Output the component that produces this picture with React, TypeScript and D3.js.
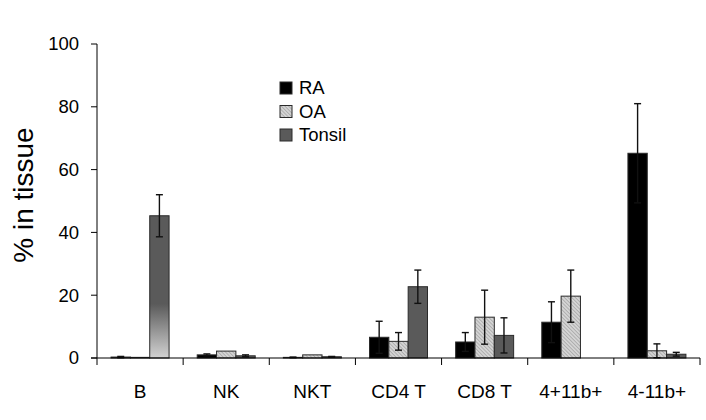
import React from "react";
import * as d3 from "d3";

const categories = ["B", "NK", "NKT", "CD4 T", "CD8 T", "4+11b+", "4-11b+"];
const seriesNames = ["RA", "OA", "Tonsil"];
const raValues = [0.3, 1.0, 0.2, 6.6, 5.1, 11.4, 65.2];
const raErrors = [0.2, 0.3, 0.1, 5.1, 3.0, 6.5, 15.8];
const oaValues = [0.2, 2.2, 1.0, 5.3, 13.0, 19.7, 2.3];
const oaErrors = [0, 0, 0, 2.8, 8.6, 8.3, 2.2];
const tonsilValues = [45.3, 0.7, 0.4, 22.7, 7.2, 0, 1.2];
const tonsilErrors = [6.7, 0.3, 0.1, 5.3, 5.6, 0, 0.6];
const yTicks = [0, 20, 40, 60, 80, 100];

const W = 706;
const H = 420;
const margin = { top: 44, right: 6, bottom: 62, left: 97 };
const font = "Arial, 'Liberation Sans', sans-serif";

const series = [
  { name: seriesNames[0], values: raValues, errors: raErrors, fill: "#000000" },
  { name: seriesNames[1], values: oaValues, errors: oaErrors, fill: "url(#hatch)" },
  { name: seriesNames[2], values: tonsilValues, errors: tonsilErrors, fill: "#5a5a5a" },
];

export default function App() {
  const innerW = W - margin.left - margin.right;
  const innerH = H - margin.top - margin.bottom;

  const x = d3.scaleBand<string>().domain(categories).range([0, innerW]);
  const inner = d3
    .scaleBand<string>()
    .domain(seriesNames)
    .range([0, 58])
    .padding(0);
  const y = d3.scaleLinear().domain([0, 100]).range([innerH, 0]);
  const offset = (x.bandwidth() - 58) / 2;

  return (
    <svg width={W} height={H} style={{ position: "absolute", left: 0, top: 0, background: "#fff" }}>
      <defs>
        <pattern id="hatch" width="2.6" height="2.6" patternUnits="userSpaceOnUse" patternTransform="rotate(-45)">
          <rect width="2.6" height="2.6" fill="#d4d4d4" />
          <line x1="0" y1="0" x2="0" y2="2.6" stroke="#8c8c8c" strokeWidth="1" />
        </pattern>
        <linearGradient id="fadeB" x1="0" y1="0" x2="0" y2="1">
          <stop offset="0.62" stopColor="#5a5a5a" />
          <stop offset="1" stopColor="#d2d2d2" />
        </linearGradient>
      </defs>
      <g transform={`translate(${margin.left},${margin.top})`}>
        {/* bars */}
        {series.map((s) => (
          <g key={s.name}>
            {categories.map((c, i) => {
              const v = s.values[i];
              if (v <= 0) return null;
              const bx = x(c)! + offset + inner(s.name)!;
              const fill = s.name === "Tonsil" && c === "B" ? "url(#fadeB)" : s.fill;
              return (
                <rect
                  key={c}
                  x={bx}
                  y={y(v)}
                  width={inner.bandwidth()}
                  height={innerH - y(v)}
                  fill={fill}
                  stroke="#2a2a2a"
                  strokeWidth={1}
                />
              );
            })}
          </g>
        ))}
        {/* error bars */}
        {series.map((s) => (
          <g key={s.name + "err"} stroke="#111" strokeWidth={1.4}>
            {categories.map((c, i) => {
              const v = s.values[i];
              const e = s.errors[i];
              if (e <= 0 || v <= 0) return null;
              const cx = x(c)! + offset + inner(s.name)! + inner.bandwidth() / 2;
              const top = y(v + e);
              const bot = y(Math.max(0, v - e));
              return (
                <g key={c}>
                  <line x1={cx} x2={cx} y1={top} y2={bot} />
                  <line x1={cx - 3.5} x2={cx + 3.5} y1={top} y2={top} />
                  <line x1={cx - 3.5} x2={cx + 3.5} y1={bot} y2={bot} />
                </g>
              );
            })}
          </g>
        ))}
        {/* y axis */}
        <line x1={0} x2={0} y1={0} y2={innerH} stroke="#000" strokeWidth={1} />
        {yTicks.map((t) => (
          <g key={t} transform={`translate(0,${y(t)})`}>
            <line x1={-6} x2={0} stroke="#000" />
            <text x={-18} dy="0.35em" textAnchor="end" fontFamily={font} fontSize={18.5}>
              {t}
            </text>
          </g>
        ))}
        {/* x axis */}
        <line x1={-6} x2={innerW} y1={innerH} y2={innerH} stroke="#000" strokeWidth={1} />
        {categories.map((c) => (
          <line key={c + "t"} x1={x(c)!} x2={x(c)!} y1={innerH} y2={innerH + 7} stroke="#000" />
        ))}
        <line x1={innerW} x2={innerW} y1={innerH} y2={innerH + 7} stroke="#000" />
        {categories.map((c) => (
          <text
            key={c}
            x={x(c)! + x.bandwidth() / 2}
            y={innerH + 40}
            textAnchor="middle"
            fontFamily={font}
            fontSize={19}
          >
            {c}
          </text>
        ))}
      </g>
      <text
        transform={`translate(33,${margin.top + innerH / 2 - 6}) rotate(-90)`}
        textAnchor="middle"
        fontFamily={font}
        fontSize={28}
      >
        % in tissue
      </text>
      {/* legend */}
      <g transform="translate(280,82)">
        {series.map((s, i) => (
          <g key={s.name} transform={`translate(0,${i * 23.5})`}>
            <rect width={12} height={12} fill={s.fill} stroke="#2a2a2a" strokeWidth={1} />
            <text x={19} y={12} fontFamily={font} fontSize={18.5}>
              {s.name}
            </text>
          </g>
        ))}
      </g>
    </svg>
  );
}
